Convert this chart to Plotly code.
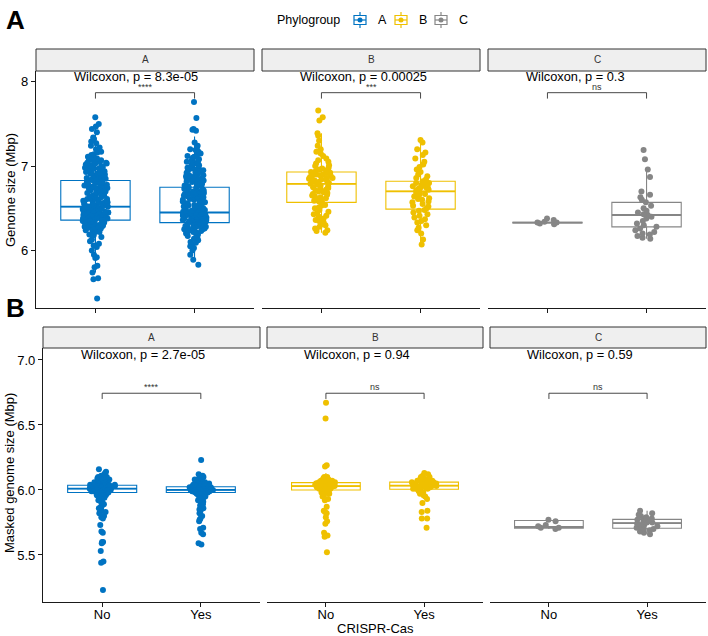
import plotly.graph_objects as go

# The page body margin is removed by a post script, so the figure fills the window.
OFF = 0
W, H = 708, 636
FONT = "Liberation Sans, Arial, sans-serif"


def px(x):
    return (x - OFF) / W


def py(y):
    return 1 - (y - OFF) / H


# ---------------- data ----------------
groups = ["A", "B", "C"]
crispr = ["No", "Yes"]
group_colors = ["#0073C2", "#EFC000", "#868686"]

# Genome size (Mbp) - row A
genome_A_no = [5.43, 5.66, 5.67, 5.74, 5.80, 5.82, 5.91, 5.92, 5.95, 6.00, 6.04, 6.06, 6.08, 6.11,
               6.13, 6.16, 6.18, 6.19, 6.21, 6.22, 6.23, 6.24, 6.25, 6.26, 6.27, 6.28, 6.29, 6.30,
               6.30, 6.31, 6.32, 6.32, 6.33, 6.33, 6.34, 6.34, 6.35, 6.35, 6.22, 6.27,
               6.36, 6.37, 6.37, 6.38, 6.38, 6.39, 6.40, 6.40, 6.41, 6.41, 6.42, 6.43, 6.43, 6.44,
               6.44, 6.45, 6.45, 6.46, 6.47, 6.47, 6.48, 6.48, 6.49, 6.49, 6.50, 6.50, 6.51, 6.51,
               6.52, 6.36, 6.39, 6.39, 6.42, 6.42, 6.44, 6.46, 6.46, 6.48, 6.50, 6.52,
               6.53, 6.54, 6.55, 6.56, 6.57, 6.58, 6.59, 6.60, 6.61, 6.62, 6.63, 6.64, 6.65, 6.66,
               6.67, 6.68, 6.69, 6.70, 6.71, 6.72, 6.73, 6.74, 6.75, 6.76, 6.77, 6.78, 6.79, 6.80,
               6.81, 6.82, 6.54, 6.57, 6.61, 6.63, 6.66, 6.69, 6.72, 6.74, 6.78, 6.81,
               6.84, 6.85, 6.86, 6.87, 6.88, 6.89, 6.90, 6.91, 6.92, 6.93, 6.94, 6.95, 6.96, 6.97,
               6.98, 6.99, 7.00, 7.01, 7.02, 7.03, 7.04, 7.05, 7.06, 7.07, 7.08, 7.09, 7.11, 7.14,
               7.17, 7.20, 7.24, 7.27, 7.29, 7.32, 7.34, 7.40, 7.44, 7.47, 7.50, 7.58,
               6.24, 6.29, 6.33, 6.37, 6.41, 6.45, 6.49, 6.53, 6.56, 6.59, 6.62, 6.65, 6.68, 6.71,
               6.74, 6.77, 6.80, 6.83, 6.86, 6.89, 6.92, 6.95, 6.98, 7.01, 7.04, 7.07, 6.26, 6.31,
               6.38, 6.43, 6.47, 6.51, 6.55, 6.58, 6.64, 6.70, 6.76, 6.85, 6.91, 6.97, 7.03, 7.10,
               7.13, 7.16, 7.22, 6.35, 6.40, 6.60, 6.88, 7.00]
genome_A_yes = [5.83, 5.89, 5.95, 6.00, 6.03, 6.05, 6.07, 6.09, 6.10, 6.12, 6.14, 6.15, 6.17, 6.18,
                6.19, 6.20, 6.21, 6.22, 6.22, 6.23, 6.24, 6.24, 6.25, 6.26, 6.26, 6.27, 6.27, 6.28,
                6.28, 6.29, 6.29, 6.30, 6.30, 6.31, 6.31, 6.32, 6.32,
                6.33, 6.33, 6.34, 6.34, 6.35, 6.35, 6.36, 6.36, 6.37, 6.37, 6.38, 6.38, 6.38, 6.39,
                6.39, 6.40, 6.40, 6.40, 6.41, 6.41, 6.42, 6.42, 6.42, 6.43, 6.43, 6.43, 6.44, 6.44,
                6.44, 6.45, 6.45, 6.34, 6.36, 6.37, 6.39, 6.41, 6.43, 6.45,
                6.46, 6.47, 6.48, 6.49, 6.50, 6.51, 6.52, 6.53, 6.54, 6.55, 6.56, 6.57, 6.58, 6.59,
                6.60, 6.61, 6.62, 6.63, 6.64, 6.65, 6.66, 6.67, 6.68, 6.69, 6.70, 6.71, 6.72, 6.73,
                6.74, 6.48, 6.52, 6.56, 6.60, 6.63, 6.67, 6.70, 6.73,
                6.76, 6.77, 6.78, 6.79, 6.80, 6.81, 6.82, 6.83, 6.84, 6.85, 6.86, 6.87, 6.88, 6.89,
                6.90, 6.92, 6.93, 6.95, 6.96, 6.98, 7.00, 7.01, 7.03, 7.05, 7.06, 7.08, 7.10, 7.12,
                7.14, 7.17, 7.20, 7.24, 7.28, 7.43, 7.44, 7.42, 7.57, 7.76,
                6.22, 6.27, 6.31, 6.35, 6.38, 6.41, 6.44, 6.47, 6.50, 6.53, 6.56, 6.59, 6.62, 6.65,
                6.68, 6.71, 6.74, 6.77, 6.80, 6.83, 6.86, 6.89, 6.92, 6.95, 6.98, 7.02, 7.07, 7.11,
                6.25, 6.33, 6.36, 6.39, 6.42, 6.46, 6.51, 6.58, 6.64, 6.69, 6.79, 6.88, 6.97, 7.04,
                7.15, 7.19, 7.22]
genome_B_no = [6.21, 6.23, 6.24, 6.26, 6.28, 6.30, 6.31, 6.33, 6.35, 6.36, 6.38, 6.40, 6.41, 6.43,
               6.44, 6.46, 6.48, 6.50, 6.51, 6.53, 6.54, 6.56,
               6.58, 6.59, 6.60, 6.61, 6.62, 6.63, 6.64, 6.65, 6.66, 6.67, 6.68, 6.69, 6.70, 6.71,
               6.72, 6.73, 6.74, 6.75, 6.76, 6.77, 6.78, 6.79,
               6.80, 6.80, 6.81, 6.82, 6.82, 6.83, 6.84, 6.84, 6.85, 6.86, 6.86, 6.87, 6.88, 6.88,
               6.89, 6.90, 6.90, 6.91, 6.91, 6.92, 6.92, 6.93,
               6.94, 6.95, 6.96, 6.97, 6.98, 7.00, 7.01, 7.03, 7.05, 7.07, 7.09, 7.12, 7.15, 7.17,
               7.20, 7.24, 7.30, 7.36, 7.39, 7.54, 7.58, 7.66]
genome_B_yes = [6.07, 6.13, 6.20, 6.24, 6.27, 6.30, 6.33, 6.35, 6.37, 6.39, 6.41, 6.43, 6.45, 6.47, 6.48,
                6.50, 6.52, 6.53, 6.55, 6.57, 6.58, 6.60, 6.61, 6.62, 6.64, 6.65, 6.66, 6.67, 6.68, 6.69,
                6.71, 6.72, 6.73, 6.74, 6.75, 6.75, 6.76, 6.77, 6.78, 6.78, 6.79, 6.80, 6.80, 6.81, 6.82,
                6.84, 6.86, 6.88, 6.90, 6.93, 6.96, 6.99, 7.02, 7.05, 7.09, 7.13, 7.16, 7.20, 7.28, 7.31]
genome_C_no = [6.31, 6.32, 6.33, 6.33, 6.34, 6.36, 6.38]
genome_C_yes = [7.19, 7.08, 6.96, 6.87, 6.70, 6.66, 6.63, 6.60, 6.57, 6.53, 6.50, 6.47, 6.45, 6.43,
                6.42, 6.40, 6.38, 6.35, 6.32, 6.30, 6.28, 6.26, 6.24, 6.22, 6.20, 6.19, 6.17, 6.15, 6.14]

# box statistics, order: A-No, A-Yes, B-No, B-Yes, C-No, C-Yes
genome_q1 = [6.36, 6.33, 6.57, 6.49, 6.325, 6.28]
genome_median = [6.52, 6.45, 6.79, 6.70, 6.33, 6.42]
genome_q3 = [6.83, 6.75, 6.93, 6.82, 6.335, 6.57]
genome_low = [5.74, 5.89, 6.21, 6.07, 6.32, 6.14]
genome_high = [7.48, 7.35, 7.39, 7.31, 6.34, 6.96]
genome_p = ["8.3e-05", "0.00025", "0.3"]
genome_sig = ["****", "***", "ns"]

# Masked genome size (Mbp) - row B
masked_A_no = [5.23, 5.44, 5.45, 5.53, 5.59, 5.60, 5.60, 5.67, 5.68, 5.73, 5.78, 5.79, 5.80, 5.82,
               5.83, 5.83, 5.85, 5.86, 5.87, 5.88, 5.89, 5.90, 5.91, 5.92, 5.93, 5.94, 5.94, 5.95,
               5.95, 5.96, 5.96, 5.97, 5.97, 5.97,
               5.98, 5.98, 5.98, 5.99, 5.99, 5.99, 5.99, 6.00, 6.00, 6.00, 6.00, 6.00, 6.01, 6.01,
               6.01, 6.01, 5.98, 5.99, 6.00, 6.01, 5.99, 6.00, 6.01, 5.98,
               6.02, 6.02, 6.02, 6.02, 6.02, 6.03, 6.03, 6.03, 6.03, 6.03, 6.04, 6.04, 6.04, 6.04,
               6.02, 6.03, 6.04, 6.02, 6.03, 6.04, 6.02, 6.03, 6.04,
               6.05, 6.05, 6.05, 6.05, 6.06, 6.06, 6.06, 6.06, 6.07, 6.07, 6.07, 6.07, 6.08, 6.08,
               6.08, 6.09, 6.09, 6.09, 6.10, 6.10, 6.11, 6.12, 6.13, 6.14, 6.16]
masked_A_yes = [5.58, 5.59, 5.66, 5.67, 5.70, 5.71, 5.76, 5.77, 5.78, 5.80, 5.82, 5.84, 5.85, 5.86,
                5.88, 5.89, 5.90, 5.91, 5.92, 5.93, 5.94, 5.94, 5.95, 5.95, 5.96, 5.96, 5.97, 5.97, 5.97,
                5.98, 5.98, 5.98, 5.98, 5.99, 5.99, 5.99, 5.99, 5.99, 6.00, 6.00, 6.00, 6.00, 6.00,
                6.00, 5.98, 5.99, 6.00, 5.99, 6.00,
                6.01, 6.01, 6.01, 6.01, 6.01, 6.02, 6.02, 6.02, 6.02, 6.02, 6.01, 6.02, 6.01, 6.02,
                6.01, 6.02, 6.01, 6.02, 6.02, 6.01,
                6.03, 6.03, 6.03, 6.03, 6.04, 6.04, 6.04, 6.04, 6.05, 6.05, 6.05, 6.05, 6.06, 6.06,
                6.06, 6.07, 6.07, 6.07, 6.08, 6.08, 6.09, 6.09, 6.10, 6.10, 6.11, 6.12, 6.23]
masked_B_no = [5.52, 5.64, 5.65, 5.67, 5.74, 5.76, 5.79, 5.82, 5.83, 5.84, 5.87, 5.92, 5.93, 5.95,
               5.96, 5.97, 5.98, 5.98, 5.99, 5.99,
               6.00, 6.00, 6.01, 6.01, 6.01, 6.02, 6.02, 6.02, 6.02, 6.03, 6.03, 6.03, 6.03, 6.00,
               6.01, 6.02, 6.03,
               6.03, 6.04, 6.04, 6.04, 6.04, 6.05, 6.05, 6.05, 6.05, 6.04, 6.05, 6.04, 6.05, 6.03,
               6.04, 6.05,
               6.06, 6.06, 6.06, 6.07, 6.07, 6.07, 6.08, 6.08, 6.08, 6.09, 6.09, 6.10, 6.10, 6.18,
               6.19, 6.55, 6.67]
masked_B_yes = [5.71, 5.78, 5.78, 5.83, 5.84, 5.90, 5.93, 5.95, 5.96, 5.97, 5.98, 5.99, 6.00, 6.00,
                6.01, 6.01, 6.01, 6.02, 6.02, 6.02, 6.03, 6.03, 6.03, 6.02, 6.01, 6.03, 6.02,
                6.04, 6.04, 6.04, 6.05, 6.05, 6.05, 6.06, 6.04, 6.05, 6.06, 6.04, 6.05, 6.06,
                6.07, 6.07, 6.07, 6.08, 6.08, 6.08, 6.09, 6.09, 6.10, 6.10, 6.11, 6.12, 6.13]
masked_C_no = [5.70, 5.71, 5.71, 5.72, 5.73, 5.76, 5.77]
masked_C_yes = [5.66, 5.67, 5.68, 5.69, 5.70, 5.70, 5.71, 5.72, 5.72, 5.73, 5.74, 5.74, 5.75, 5.75,
                5.76, 5.76, 5.77, 5.77, 5.78, 5.78, 5.79, 5.80, 5.81, 5.82, 5.84]

masked_q1 = [5.98, 5.98, 6.00, 6.005, 5.705, 5.705]
masked_median = [6.01, 6.00, 6.03, 6.033, 5.715, 5.745]
masked_q3 = [6.036, 6.025, 6.056, 6.06, 5.765, 5.774]
masked_low = [5.90, 5.91, 5.92, 5.93, 5.70, 5.66]
masked_high = [6.12, 6.09, 6.13, 6.13, 5.77, 5.84]
masked_p = ["2.7e-05", "0.94", "0.59"]
masked_sig = ["****", "ns", "ns"]

genome_ticks = [6, 7, 8]
masked_ticks = [5.5, 6.0, 6.5, 7.0]

# ---------------- layout config (window pixels) ----------------
rows = [
    dict(pts=[(genome_A_no, genome_A_yes), (genome_B_no, genome_B_yes), (genome_C_no, genome_C_yes)],
         q1=genome_q1, med=genome_median, q3=genome_q3, lo=genome_low, hi=genome_high,
         p=genome_p, sig=genome_sig, ticks=genome_ticks, fmt="{:.0f}",
         xdom=[(36, 254), (262, 480), (488, 706)], ydom=(71, 308), strip=(49, 71),
         yrange=[5.318, 8.127], label_y=8.06, br_y=7.87, br_tick=7.80,
         title="Genome size (Mbp)", title_px=(10, 190), letter="A", letter_y=20),
    dict(pts=[(masked_A_no, masked_A_yes), (masked_B_no, masked_B_yes), (masked_C_no, masked_C_yes)],
         q1=masked_q1, med=masked_median, q3=masked_q3, lo=masked_low, hi=masked_high,
         p=masked_p, sig=masked_sig, ticks=masked_ticks, fmt="{:.1f}",
         xdom=[(43, 260), (267, 483), (490, 706)], ydom=(348, 602), strip=(327, 348),
         yrange=[5.138, 7.092], label_y=7.04, br_y=6.744, br_tick=6.70,
         title="Masked genome size (Mbp)", title_px=(9, 473), letter="B", letter_y=308),
]

fig = go.Figure()
shapes, annotations = [], []
layout_axes = {}

for r, row in enumerate(rows):
    for g in range(3):
        k = r * 3 + g + 1
        xs = "x" if k == 1 else f"x{k}"
        ys = "y" if k == 1 else f"y{k}"
        col = group_colors[g]
        sl = slice(2 * g, 2 * g + 2)
        # box from statistics
        fig.add_trace(go.Box(
            x=crispr, q1=row["q1"][sl], median=row["med"][sl], q3=row["q3"][sl],
            lowerfence=row["lo"][sl], upperfence=row["hi"][sl],
            boxpoints=False, whiskerwidth=0,
            line=dict(color=col, width=1.1), fillcolor="white",
            showlegend=False, hoverinfo="skip", xaxis=xs, yaxis=ys))
        # thicker median line (ggplot fattens the median)
        fig.add_trace(go.Box(
            x=crispr, q1=row["med"][sl], median=row["med"][sl], q3=row["med"][sl],
            lowerfence=row["med"][sl], upperfence=row["med"][sl],
            boxpoints=False, whiskerwidth=0,
            line=dict(color=col, width=1.8), fillcolor="rgba(0,0,0,0)",
            showlegend=False, hoverinfo="skip", xaxis=xs, yaxis=ys))
        # jittered points
        no, yes = row["pts"][g]
        fig.add_trace(go.Box(
            x=["No"] * len(no) + ["Yes"] * len(yes), y=no + yes,
            boxpoints="all", jitter=0.37, pointpos=0, whiskerwidth=0,
            marker=dict(color=col, size=6, opacity=1, line=dict(width=0)),
            line=dict(color="rgba(0,0,0,0)", width=0), fillcolor="rgba(0,0,0,0)",
            showlegend=False, hoverinfo="skip", xaxis=xs, yaxis=ys))

        x0, x1 = row["xdom"][g]
        y0, y1 = row["ydom"]
        xkey = "xaxis" if k == 1 else f"xaxis{k}"
        ykey = "yaxis" if k == 1 else f"yaxis{k}"
        layout_axes[xkey] = dict(
            domain=[px(x0), px(x1)], anchor=ys, type="category",
            categoryorder="array", categoryarray=crispr, range=[-0.6, 1.6],
            showline=True, linecolor="#1a1a1a", linewidth=1.1, ticks="outside", ticklen=4,
            tickcolor="#1a1a1a", tickwidth=1, showticklabels=(r == 1), ticklabelstandoff=-4,
            tickfont=dict(family=FONT, size=13, color="black"),
            showgrid=False, zeroline=False, fixedrange=True)
        layout_axes[ykey] = dict(
            domain=[py(y1), py(y0)], anchor=xs, range=row["yrange"],
            showline=(g == 0), linecolor="#1a1a1a", linewidth=1.1,
            ticks="outside" if g == 0 else "", ticklen=4, tickcolor="#1a1a1a", tickwidth=1,
            showticklabels=(g == 0), tickvals=row["ticks"],
            ticktext=[row["fmt"].format(v) for v in row["ticks"]],
            tickfont=dict(family=FONT, size=13, color="black"),
            showgrid=False, zeroline=False, fixedrange=True)

        # strip
        s0, s1 = row["strip"]
        shapes.append(dict(type="rect", xref="paper", yref="paper",
                           x0=px(x0), x1=px(x1), y0=py(s1), y1=py(s0),
                           fillcolor="#EFEFEF", line=dict(color="#333333", width=1)))
        annotations.append(dict(xref="paper", yref="paper", x=px((x0 + x1) / 2),
                                y=py((s0 + s1) / 2), text=groups[g], showarrow=False,
                                font=dict(family=FONT, size=10, color="#333333"),
                                xanchor="center", yanchor="middle"))
        # Wilcoxon label
        annotations.append(dict(xref=xs, yref=ys, x=-0.24, y=row["label_y"],
                                text=f"Wilcoxon, p = {row['p'][g]}", showarrow=False,
                                font=dict(family=FONT, size=12.8, color="black"),
                                xanchor="left", yanchor="middle"))
        # bracket
        for (ax0, ay0, ax1, ay1) in [(0, row["br_y"], 1, row["br_y"]),
                                     (0, row["br_tick"], 0, row["br_y"]),
                                     (1, row["br_tick"], 1, row["br_y"])]:
            shapes.append(dict(type="line", xref=xs, yref=ys, x0=ax0, y0=ay0, x1=ax1, y1=ay1,
                               line=dict(color="#333333", width=0.9)))
        annotations.append(dict(xref=xs, yref=ys, x=0.5, y=row["br_y"], text=row["sig"][g],
                                showarrow=False, font=dict(family=FONT, size=9, color="#333333"),
                                xanchor="center", yanchor="bottom", yshift=-1))

    # axis title
    tx, ty = row["title_px"]
    annotations.append(dict(xref="paper", yref="paper", x=px(tx), y=py(ty), text=row["title"],
                            textangle=-90, showarrow=False,
                            font=dict(family=FONT, size=13, color="black"),
                            xanchor="center", yanchor="middle"))
    # panel letter
    annotations.append(dict(xref="paper", yref="paper", x=px(15), y=py(row["letter_y"]),
                            text=f"<b>{row['letter']}</b>", showarrow=False,
                            font=dict(family=FONT, size=26, color="black"),
                            xanchor="center", yanchor="middle"))

annotations.append(dict(xref="paper", yref="paper", x=px(375), y=py(628), text="CRISPR-Cas",
                        showarrow=False, font=dict(family=FONT, size=13, color="black"),
                        xanchor="center", yanchor="middle"))

# ---------------- legend (drawn like ggplot's boxplot keys) ----------------
LEG_Y = 20
annotations.append(dict(xref="paper", yref="paper", x=px(275), y=py(LEG_Y), text="Phylogroup",
                        showarrow=False, font=dict(family=FONT, size=12.5, color="black"),
                        xanchor="left", yanchor="middle"))
key_cx = [360, 401, 441]
for g in range(3):
    cx, col = key_cx[g], group_colors[g]
    shapes.append(dict(type="line", xref="paper", yref="paper", x0=px(cx), x1=px(cx),
                       y0=py(LEG_Y - 8), y1=py(LEG_Y + 8), line=dict(color=col, width=1.2)))
    shapes.append(dict(type="rect", xref="paper", yref="paper", x0=px(cx - 6), x1=px(cx + 6),
                       y0=py(LEG_Y + 4.5), y1=py(LEG_Y - 4.5), fillcolor="white",
                       line=dict(color=col, width=1.2)))
    shapes.append(dict(type="line", xref="paper", yref="paper", x0=px(cx - 6), x1=px(cx + 6),
                       y0=py(LEG_Y), y1=py(LEG_Y), line=dict(color=col, width=1.2)))
    shapes.append(dict(type="circle", xref="paper", yref="paper", x0=px(cx - 2.5), x1=px(cx + 2.5),
                       y0=py(LEG_Y + 2.5), y1=py(LEG_Y - 2.5), fillcolor=col,
                       line=dict(color=col, width=0)))
    annotations.append(dict(xref="paper", yref="paper", x=px(cx + 16), y=py(LEG_Y), text=groups[g],
                            showarrow=False, font=dict(family=FONT, size=12.5, color="black"),
                            xanchor="left", yanchor="middle"))

fig.update_layout(
    width=W, height=H, margin=dict(l=0, r=0, t=0, b=0),
    paper_bgcolor="white", plot_bgcolor="white",
    font=dict(family=FONT, size=12, color="black"),
    boxmode="overlay", boxgap=0.3, boxgroupgap=0,
    showlegend=False,
    shapes=shapes, annotations=annotations,
    **layout_axes,
)

fig.write_html("out.html", config={"displayModeBar": False},
               post_script="document.body.style.margin='0';document.body.style.overflow='hidden';")
